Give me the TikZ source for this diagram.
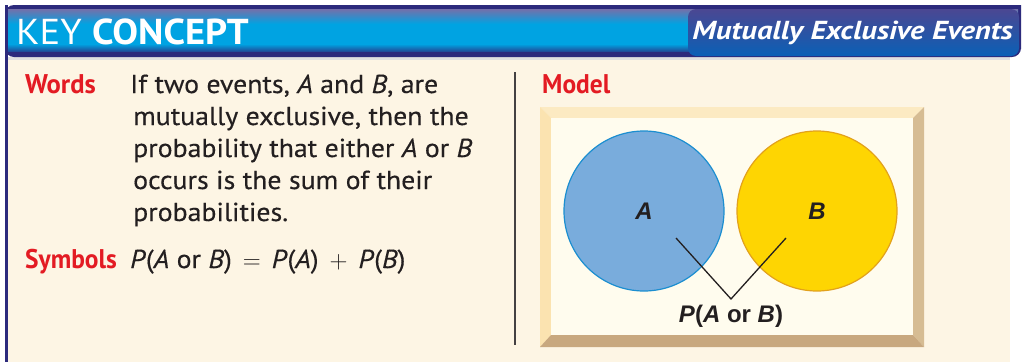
\documentclass[tikz,border=0pt]{standalone}
\usepackage{fontspec}
\setmainfont[FakeStretch=1.07]{PT Sans}
\newfontfamily\bodyfont[FakeStretch=1.07,FakeBold=0.35]{PT Sans}
\newfontfamily\vennfont{Liberation Sans}
\definecolor{navy}{HTML}{2C2A7C}
\definecolor{hdrcyan}{HTML}{00A3E2}
\definecolor{hdrlav}{HTML}{7470AA}
\definecolor{boxtop}{HTML}{4B4792}
\definecolor{boxbot}{HTML}{0A60B6}
\definecolor{bodybg}{HTML}{FDF5E4}
\definecolor{keyred}{HTML}{E31B23}
\definecolor{txt}{HTML}{231F20}
\definecolor{framein}{HTML}{FFFCEE}
\definecolor{bevlight}{HTML}{FCEAC2}
\definecolor{bevleft}{HTML}{FBE3B0}
\definecolor{bevright}{HTML}{D6BC93}
\definecolor{bevbot}{HTML}{C8A87F}
\definecolor{afill}{HTML}{79ACDC}
\definecolor{aline}{HTML}{1B8ED0}
\definecolor{bfill}{HTML}{FED502}
\definecolor{bline}{HTML}{E2A11C}
\tikzset{
  bodytext/.style={anchor=base west, inner sep=0pt, text=txt, font=\bodyfont\fontsize{26}{32}\selectfont},
  redlabel/.style={anchor=base west, inner sep=0pt, text=keyred, font=\fontsize{27}{32}\selectfont\bfseries},
  venntext/.style={inner sep=0pt, text=txt, font=\vennfont\fontsize{24}{28}\selectfont\bfseries},
  pointer/.style={draw=txt, line width=1.3pt},
}
\newcommand{\opsp}[1]{\hspace{11pt}#1\hspace{11pt}}
\begin{document}
\begin{tikzpicture}[x=1pt,y=-1pt]
\useasboundingbox (0,0) rectangle (1023,362);
\fill[white] (0,0) rectangle (1023,362);
% body
\fill[bodybg] (6,57) rectangle (1010,362);
\fill[black!12] (6,57) rectangle (1010,59.5);
\fill[navy] (5,5) rectangle (7.5,362);
% header bar
\fill[navy] (5,5) -- (1021,5) -- (1021,49) [rounded corners=9pt] -- (1021,57) -- (5,57) -- cycle;
\shade[top color=hdrlav, bottom color=hdrcyan] (8,9) rectangle (1018,24);
\fill[hdrcyan] (8,24) rectangle (1018,44);
\shade[top color=hdrcyan, bottom color=navy!70!hdrcyan] (8,44) rectangle (1018,51);
% title box on right
\shade[top color=boxtop, bottom color=boxbot, rounded corners=8pt] (688,9) rectangle (1019,56);
\node[anchor=base west, inner sep=0pt, text=white, font=\fontsize{36}{40}\selectfont] (kc) at (16,44)
  {KEY \textbf{CONCEPT}};
\node[anchor=base east, inner sep=0pt, text=white, font=\fontsize{26}{30}\selectfont\bfseries\itshape] (title) at (1013,39)
  {\scalebox{1.1}[1]{Mutually Exclusive Events}};
% left column
\node[redlabel] (words) at (25,93) {\scalebox{0.92}[1]{Words}};
\node[bodytext] (w1) at (130,93) {If two events, \textit{A} and \textit{B}, are};
\node[bodytext] (w2) at (133,125) {mutually exclusive, then the};
\node[bodytext] (w3) at (133,157) {probability that either \textit{A} or \textit{B}};
\node[bodytext] (w4) at (133,189) {occurs is the sum of their};
\node[bodytext] (w5) at (133,221) {probabilities.};
\node[redlabel] (symbols) at (25,268) {\scalebox{0.88}[1]{Symbols}};
\node[bodytext] (formula) at (130,268)
  {\textit{P}(\textit{A} or \textit{B})\opsp{$=$}\textit{P}(\textit{A})\opsp{$+$}\textit{P}(\textit{B})};
% divider
\coordinate (d1) at (515,72);
\coordinate (d2) at (515,345);
\draw[txt!85, line width=1.5pt] (d1) -- (d2);
% right column
\node[redlabel] (model) at (542,93) {\scalebox{0.88}[1]{Model}};
% frame
\fill[bevlight] (540,107) -- (924,107) -- (913,118) -- (551,118) -- cycle;
\fill[bevleft] (540,107) -- (551,118) -- (551,335) -- (540,347) -- cycle;
\fill[bevright] (924,107) -- (924,347) -- (913,335) -- (913,118) -- cycle;
\fill[bevbot] (540,347) -- (924,347) -- (913,335) -- (551,335) -- cycle;
\fill[framein] (551,118) rectangle (913,335);
% circles
\node[circle, minimum size=160pt, inner sep=0pt, fill=afill, draw=aline, line width=1.2pt] (ca) at (644,211) {};
\node[circle, minimum size=160pt, inner sep=0pt, fill=bfill, draw=bline, line width=1.2pt] (cb) at (817,211) {};
\node[venntext] (la) at (644,211) {\textit{A}};
\node[venntext] (lb) at (817,211) {\textit{B}};
\node[venntext, anchor=base] (pab) at (731,322) {\textit{P}(\textit{A} or \textit{B})};
\coordinate (ea) at (676,238);
\coordinate (eb) at (786,238);
\coordinate (v) at (731,299);
\draw[pointer] (ea) -- (v) -- (eb);
\end{tikzpicture}
\end{document}
